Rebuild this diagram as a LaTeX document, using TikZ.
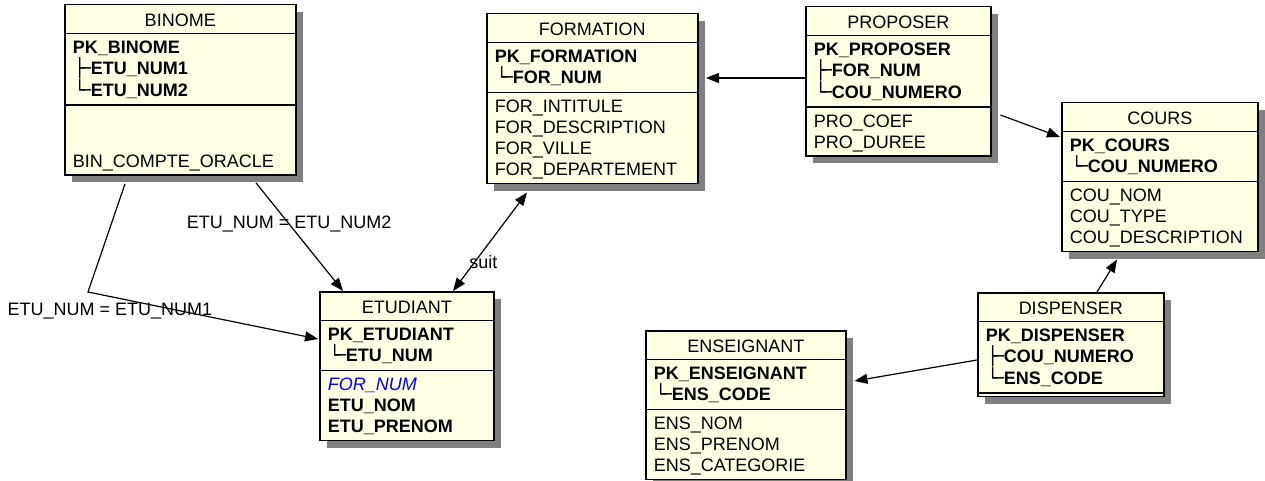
\documentclass[tikz,border=0pt]{standalone}
\usepackage{fontspec}
\setmainfont{Liberation Sans}
\newfontfamily\treefont{DejaVu Sans Mono}
\usepackage{xcolor}
\usepackage{tikz}
\usetikzlibrary{arrows.meta,shadows,calc}
\definecolor{entfill}{RGB}{255,255,228}
\definecolor{entshadow}{RGB}{128,128,128}
\definecolor{fkblue}{RGB}{0,0,255}
\setlength{\arrayrulewidth}{1.3pt}
\renewcommand{\arraystretch}{0}
\newcommand{\erstrut}{\rule[-4.5pt]{0pt}{21pt}}
\newcommand{\ertitle}[1]{\noalign{\vskip5pt}\multicolumn{1}{@{}c@{}}{\erstrut #1}\\\noalign{\vskip2pt}\hline\noalign{\vskip3pt}}
\newcommand{\ersep}{\noalign{\vskip3.5pt}\hline\noalign{\vskip3pt}}
\newcommand{\erend}{\noalign{\vskip3.5pt}}
\newcommand{\erpk}[1]{\erstrut\textbf{#1}}
\newcommand{\erattr}[1]{\erstrut #1}
\newcommand{\ertee}{{\mdseries\treefont\hspace{1.5pt}├\hspace{-5pt}─}}
\newcommand{\erelbow}{{\mdseries\treefont\hspace{1.5pt}└\hspace{-5pt}─}}
\newcommand{\ertable}[2]{\begin{tabular}{@{\hspace{8pt}}p{#1}@{}}#2\end{tabular}}

\begin{document}
\begin{tikzpicture}[
    x=1pt,y=-1pt,
    entity/.style={draw,line width=1.5pt,fill=entfill,inner sep=0pt,anchor=north west,
                   drop shadow={shadow xshift=7pt,shadow yshift=-7pt,fill=entshadow,opacity=1},
                   font=\fontsize{18}{21}\selectfont},
    lbl/.style={font=\fontsize{18}{21}\selectfont,inner sep=1pt},
    fk/.style={-{Triangle[length=13pt,width=10pt]},line width=1.2pt}
]
\useasboundingbox (0,0) rectangle (1265,481);

\node[entity] (binome) at (64,4) {\ertable{223pt}{%
  \ertitle{BINOME}
  \erpk{PK\_BINOME}\\
  \erpk{\ertee ETU\_NUM1}\\
  \erpk{\erelbow ETU\_NUM2}\\
  \ersep
  \erattr{}\\
  \erattr{}\\
  \erattr{BIN\_COMPTE\_ORACLE}\\
  \erend}};

\node[entity] (formation) at (486,13) {\ertable{203pt}{%
  \ertitle{FORMATION}
  \erpk{PK\_FORMATION}\\
  \erpk{\erelbow FOR\_NUM}\\
  \ersep
  \erattr{FOR\_INTITULE}\\
  \erattr{FOR\_DESCRIPTION}\\
  \erattr{FOR\_VILLE}\\
  \erattr{FOR\_DEPARTEMENT}\\
  \erend}};

\node[entity] (proposer) at (805,6) {\ertable{177pt}{%
  \ertitle{PROPOSER}
  \erpk{PK\_PROPOSER}\\
  \erpk{\ertee FOR\_NUM}\\
  \erpk{\erelbow COU\_NUMERO}\\
  \ersep
  \erattr{PRO\_COEF}\\
  \erattr{PRO\_DUREE}\\
  \erend}};

\node[entity] (cours) at (1061,102) {\ertable{188pt}{%
  \ertitle{COURS}
  \erpk{PK\_COURS}\\
  \erpk{\erelbow COU\_NUMERO}\\
  \ersep
  \erattr{COU\_NOM}\\
  \erattr{COU\_TYPE}\\
  \erattr{COU\_DESCRIPTION}\\
  \erend}};

\node[entity] (etudiant) at (319,291) {\ertable{166pt}{%
  \ertitle{ETUDIANT}
  \erpk{PK\_ETUDIANT}\\
  \erpk{\erelbow ETU\_NUM}\\
  \ersep
  \erattr{\textcolor{fkblue}{\itshape FOR\_NUM}}\\
  \erpk{ETU\_NOM}\\
  \erpk{ETU\_PRENOM}\\
  \erend}};

\node[entity] (enseignant) at (645,330) {\ertable{192pt}{%
  \ertitle{ENSEIGNANT}
  \erpk{PK\_ENSEIGNANT}\\
  \erpk{\erelbow ENS\_CODE}\\
  \ersep
  \erattr{ENS\_NOM}\\
  \erattr{ENS\_PRENOM}\\
  \erattr{ENS\_CATEGORIE}\\
  \erend}};

\node[entity] (dispenser) at (977,292) {\ertable{178pt}{%
  \ertitle{DISPENSER}
  \erpk{PK\_DISPENSER}\\
  \erpk{\ertee COU\_NUMERO}\\
  \erpk{\erelbow ENS\_CODE}\\
  \ersep}};

% references
\draw[fk] ($(binome.south west)+(192,7)$) -- node[lbl,pos=0.38] (lbltwo) {ETU\_NUM = ETU\_NUM2} ($(etudiant.north west)+(24,0)$);
\coordinate (bendone) at (88,292);
\draw[fk] ($(binome.south west)+(61,8)$) -- (bendone) -- ($(etudiant.north west)+(-1,48)$);
\node[lbl] (lblone) at (110,311) {ETU\_NUM = ETU\_NUM1};
\draw[fk,{Triangle[length=13pt,width=10pt]}-{Triangle[length=13pt,width=10pt]}] ($(etudiant.north west)+(134,0)$) -- node[lbl,pos=0.29,xshift=9pt] (lblsuit) {suit} ($(formation.south west)+(41,8)$);
\draw[fk] ($(proposer.north west)+(0,72)$) -- ($(formation.north east)+(7.5,65)$);
\draw[fk] ($(proposer.north east)+(9,109)$) -- ($(cours.north west)+(-1,35)$);
\draw[fk] ($(dispenser.north west)+(120,0)$) -- ($(cours.south west)+(56,7)$);
\draw[fk] ($(dispenser.north west)+(0,68)$) -- ($(enseignant.north east)+(8,51)$);
\end{tikzpicture}
\end{document}
